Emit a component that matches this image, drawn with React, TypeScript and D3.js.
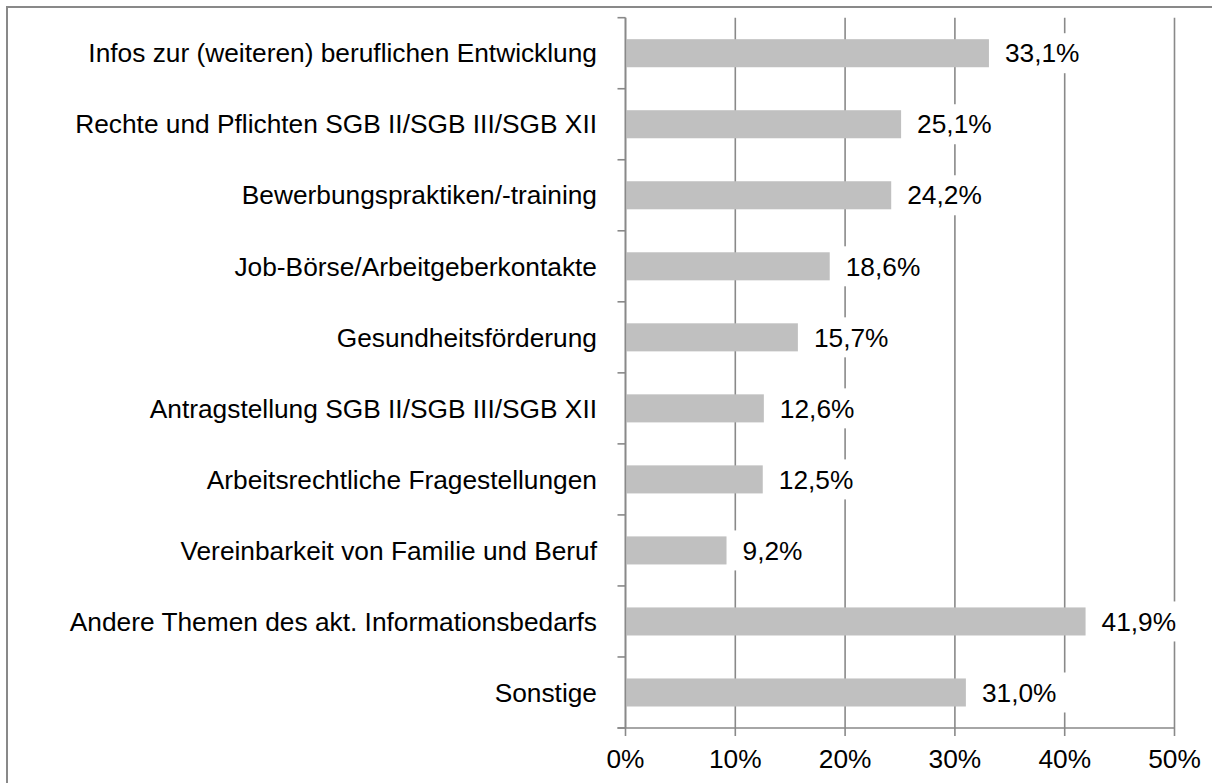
import React from "react";
import * as d3 from "d3";

const categories = [
  "Infos zur (weiteren) beruflichen Entwicklung",
  "Rechte und Pflichten SGB II/SGB III/SGB XII",
  "Bewerbungspraktiken/-training",
  "Job-Börse/Arbeitgeberkontakte",
  "Gesundheitsförderung",
  "Antragstellung SGB II/SGB III/SGB XII",
  "Arbeitsrechtliche Fragestellungen",
  "Vereinbarkeit von Familie und Beruf",
  "Andere Themen des akt. Informationsbedarfs",
  "Sonstige",
];
const values = [33.1, 25.1, 24.2, 18.6, 15.7, 12.6, 12.5, 9.2, 41.9, 31.0];
const xTicks = [0, 10, 20, 30, 40, 50];

const W = 1212;
const H = 783;
const FONT = "Liberation Sans, Arial, sans-serif";
const GRID = "#898989";
const fmt = (v: number) => v.toFixed(1).replace(".", ",") + "%";

export default function App() {
  const x = d3.scaleLinear().domain([0, 50]).range([625.5, 1174.5]);
  const y = d3.scaleBand<string>().domain(categories).range([17.7, 728]).padding(0);
  const step = y.step();
  const barH = step * 0.395;
  const fs = 26.3;
  const charW = (s: string) => {
    let w = 0;
    for (const c of s) {
      if (c === ",") w += 0.278;
      else if (c === "%") w += 0.889;
      else w += 0.556;
    }
    return w * fs;
  };
  const bottom = y.range()[1];
  const top = y.range()[0];
  return (
    <svg
      width={W}
      height={H}
      style={{ position: "absolute", left: 0, top: 0, background: "#fff" }}
      fontFamily={FONT}
    >
      <rect x={7} y={7} width={W} height={H} fill="#fff" stroke={GRID} strokeWidth={2} />
      {xTicks.map((t) => (
        <line
          key={"g" + t}
          x1={x(t)}
          x2={x(t)}
          y1={top}
          y2={bottom + 8}
          stroke={GRID}
          strokeWidth={1.6}
        />
      ))}
      <line x1={x(0) - 8} x2={x(50)} y1={bottom} y2={bottom} stroke={GRID} strokeWidth={1.6} />
      {d3.range(categories.length + 1).map((i) => (
        <line
          key={"t" + i}
          x1={x(0) - 8}
          x2={x(0)}
          y1={top + i * step}
          y2={top + i * step}
          stroke={GRID}
          strokeWidth={1.6}
        />
      ))}
      {categories.map((c, i) => {
        const cy = (y(c) as number) + step / 2;
        const xe = x(values[i]);
        const lbl = fmt(values[i]);
        const tw = charW(lbl);
        return (
          <g key={c}>
            <rect x={x(0) + 1} y={cy - barH / 2} width={xe - x(0) - 1} height={barH} fill="#c0c0c0" />
            <rect x={xe + 6} y={cy - 20} width={tw + 20} height={40} fill="#fff" />
            <text x={xe + 16} y={cy} dy="0.35em" fontSize={fs} fill="#000">
              {lbl}
            </text>
            <text x={597} y={cy} dy="0.35em" fontSize={fs} textAnchor="end" fill="#000">
              {c}
            </text>
          </g>
        );
      })}
      <line x1={x(0)} x2={x(0)} y1={top} y2={bottom} stroke={GRID} strokeWidth={1.6} />
      {xTicks.map((t) => (
        <text key={"l" + t} x={x(t)} y={768} fontSize={fs} textAnchor="middle" fill="#000">
          {t + "%"}
        </text>
      ))}
    </svg>
  );
}
